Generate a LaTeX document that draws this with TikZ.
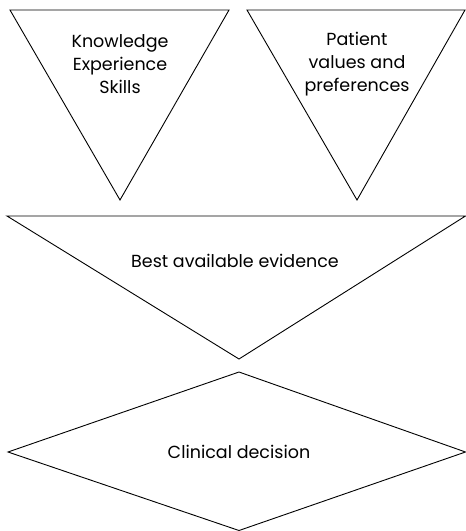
\documentclass[tikz,border=0pt]{standalone}
\usepackage{fontspec}
\setmainfont{Poppins}
\tikzset{
    label text/.style={font=\fontsize{17.5}{23}\selectfont, align=center},
    outline/.style={line width=0.9pt, line join=miter}
}
\newcommand{\placepoints}{
    \coordinate (k0) at (10,10);
    \coordinate (k1) at (229,10);
    \coordinate (k2) at (120,200);

    \coordinate (p0) at (247,10);
    \coordinate (p1) at (465,10);
    \coordinate (p2) at (357,200);

    \coordinate (e0) at (7,216);
    \coordinate (e1) at (465.5,216);
    \coordinate (e2) at (239,359);

    \coordinate (d0) at (239,372);
    \coordinate (d1) at (465.5,452);
    \coordinate (d2) at (239,530.5);
    \coordinate (d3) at (8,452);
}

\begin{document}
\begin{tikzpicture}[x=1pt,y=-1pt]
          \useasboundingbox (0,0) rectangle (466,531);
          \placepoints;

          \draw[outline] (k0) -- (k1) -- (k2) -- cycle; % knowledge triangle
          \draw[outline] (p0) -- (p1) -- (p2) -- cycle;
          \draw[outline] (e0) -- (e1) -- (e2) -- cycle;
          \draw[outline] (d0) -- (d1) -- (d2) -- (d3) -- cycle; % decision diamond

          \node[label text] (know) at (120,64) {Knowledge\\Experience\\Skills};
          \node[label text] (pat) at (357,64) {Patient\\values and\\preferences};
          \node[label text] (best) at (235,261) {Best available evidence};
          \node[label text] (clin) at (239,452) {Clinical decision};
        \end{tikzpicture}
\end{document}
